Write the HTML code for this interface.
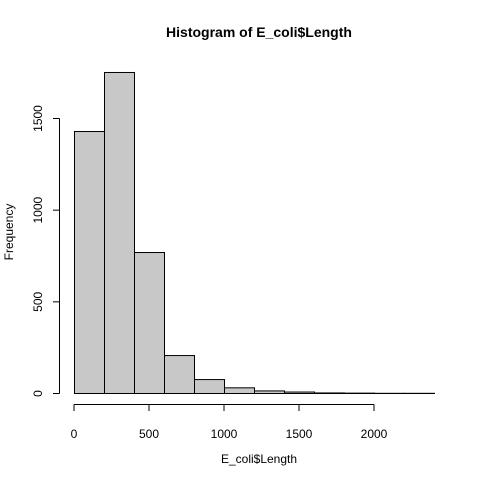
<!DOCTYPE html>
<html><head><meta charset="utf-8"><style>body{margin:0;background:#fff}svg{display:block}text{font-family:"Liberation Sans",sans-serif;fill:#000}</style></head>
<body>
<svg id="c" width="480" height="480">
<text x="259" y="37" font-size="14" font-weight="bold" text-anchor="middle">Histogram of E_coli$Length</text>
<text x="259" y="463" font-size="12" text-anchor="middle">E_coli$Length</text>
<text transform="translate(13,232) rotate(-90)" font-size="12" text-anchor="middle">Frequency</text>
<g id="bars"></g><g id="axes"></g>
</svg>
<script>
const binStarts=[0,200,400,600,800,1000,1200,1400,1600,1800,2000,2200];
const counts=[1429,1751,769,207,76,31,14,8,3,2,1,1];
const xTicks=[0,500,1000,1500,2000];
const yTicks=[0,500,1000,1500];
const binWidth=200;
const NS="http://www.w3.org/2000/svg";
const xs=v=>74+v*0.15;
const ys=v=>393.5-v*(275/1500);
const bars=document.getElementById('bars'),axes=document.getElementById('axes');
function mk(tag,at,p){const e=document.createElementNS(NS,tag);for(const k in at)e.setAttribute(k,at[k]);p.appendChild(e);return e;}
binStarts.forEach((b,i)=>{
 const r=mk('rect',{x:xs(b)+0.5,y:ys(counts[i]),width:binWidth*0.15,height:ys(0)-ys(counts[i]),fill:'#c8c8c8',stroke:'#000','stroke-width':1},bars);
 
 
});
mk('line',{x1:xs(0),x2:xs(2000),y1:404.5,y2:404.5,stroke:'#000'},axes);
xTicks.forEach(t=>{
 mk('line',{x1:xs(t),x2:xs(t),y1:404.5,y2:411,stroke:'#000'},axes);
 const e=mk('text',{x:xs(t),y:438,'font-size':12,'text-anchor':'middle'},axes);e.textContent=t;
 
 
});
mk('line',{x1:59.5,x2:59.5,y1:ys(0),y2:ys(1500),stroke:'#000'},axes);
yTicks.forEach(t=>{
 mk('line',{x1:53,x2:59.5,y1:ys(t),y2:ys(t),stroke:'#000'},axes);
 const e=mk('text',{transform:`translate(42,${ys(t)}) rotate(-90)`,'font-size':12,'text-anchor':'middle'},axes);e.textContent=t;
 
 
});
</script>
</body></html>
